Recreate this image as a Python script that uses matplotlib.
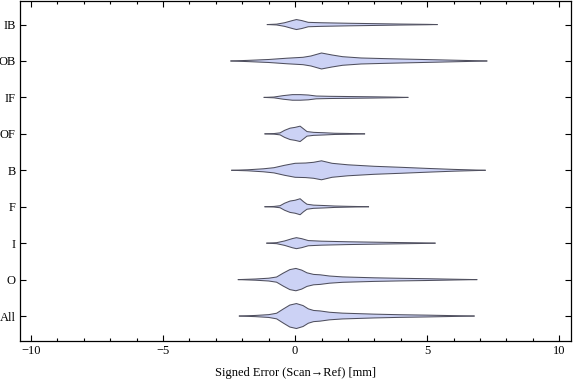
import numpy as np
import matplotlib
matplotlib.use("Agg")
import matplotlib.pyplot as plt
from matplotlib.ticker import MultipleLocator

# categories, bottom to top
categories = ['All', 'O', 'I', 'F', 'B', 'OF', 'IF', 'OB', 'IB']

# violin outlines: error value (mm) and half width (read in pixels of the original)
prof_x = {
    'IB': [-1.05, -0.7, -0.4, -0.1, 0.05, 0.25, 0.5, 1.0, 2.0, 3.0, 4.0, 5.0, 5.38],
    'OB': [-2.43, -1.8, -1.0, -0.3, 0.3, 0.6, 1.0, 1.4, 1.8, 2.5, 3.5, 4.5, 5.5, 6.5, 7.26],
    'IF': [-1.17, -0.8, -0.45, -0.1, 0.2, 0.5, 0.8, 1.3, 2.0, 3.0, 3.8, 4.27],
    'OF': [-1.14, -0.8, -0.57, -0.4, -0.19, 0.0, 0.19, 0.32, 0.45, 0.7, 1.1, 1.5, 2.0, 2.63],
    'B': [-2.4, -1.8, -1.2, -0.8, -0.4, 0.0, 0.4, 0.7, 1.0, 1.4, 2.0, 3.0, 4.0, 5.0, 6.0, 7.2],
    'F': [-1.14, -0.8, -0.57, -0.4, -0.19, 0.0, 0.19, 0.32, 0.45, 0.7, 1.1, 1.5, 2.0, 2.78],
    'I': [-1.07, -0.7, -0.4, -0.1, 0.05, 0.25, 0.5, 1.0, 2.0, 3.0, 4.0, 4.8, 5.3],
    'O': [-2.15, -1.5, -1.0, -0.7, -0.45, -0.2, 0.03, 0.25, 0.45, 0.7, 0.95, 1.3, 1.8, 3.0, 4.0, 5.0, 6.0, 6.88],
    'All': [-2.11, -1.5, -1.0, -0.7, -0.45, -0.2, 0.05, 0.3, 0.5, 0.7, 0.95, 1.3, 1.8, 3.0, 4.0, 5.0, 6.0, 6.78],
}
prof_w = {
    'IB': [0, 0.4, 1.8, 4, 5, 4, 2.2, 1.8, 1.3, 0.9, 0.5, 0.2, 0],
    'OB': [0, 0.6, 1.5, 2.8, 3.7, 5, 8, 6, 4.3, 3, 2.3, 1.7, 1.1, 0.5, 0],
    'IF': [0, 0.4, 1.8, 2.8, 2.8, 2.4, 1.4, 1.1, 0.9, 0.6, 0.3, 0],
    'OF': [0, 0.3, 1.0, 3.5, 5.7, 6.5, 7.7, 5.0, 2.3, 1.5, 1.1, 0.6, 0.4, 0],
    'B': [0, 0.5, 1.5, 2.6, 5.0, 7.0, 7.3, 8.0, 9.5, 7.0, 5.5, 4.0, 3.0, 1.9, 0.9, 0],
    'F': [0, 0.3, 1.0, 3.5, 5.7, 6.5, 8.0, 5.0, 2.5, 1.6, 1.2, 0.7, 0.4, 0],
    'I': [0, 0.5, 2.2, 4.6, 5.5, 4.5, 2.6, 2.0, 1.4, 1.0, 0.6, 0.3, 0],
    'O': [0, 0.6, 1.4, 2.6, 6.5, 10, 11.2, 9.5, 6.8, 5.2, 4.8, 3.6, 2.7, 1.8, 1.3, 0.9, 0.4, 0],
    'All': [0, 0.6, 1.4, 2.8, 7.0, 11, 12.5, 10.5, 7.2, 5.6, 5.1, 3.8, 2.9, 1.9, 1.3, 0.9, 0.4, 0],
}
x_ticks = [-10, -5, 0, 5, 10]
x_ticklabels = ['\u221210', '\u22125', '0', '5', '10']

plt.rcParams['font.family'] = ['Liberation Serif', 'DejaVu Serif']
plt.rcParams['font.size'] = 9

fig = plt.figure(figsize=(5.76, 3.81), dpi=100)
ax = fig.add_axes([20 / 576, 40 / 381, 551 / 576, 340.5 / 381])

px_per_unit = 36.5  # one category slot in pixels
for i, cat in enumerate(categories):
    pos = i + 1
    x = np.array(prof_x[cat])
    w = np.array(prof_w[cat]) / px_per_unit
    ax.fill_between(x, pos - w, pos + w, facecolor='#ccd2f5', edgecolor='none', zorder=2)
    ax.plot(x, pos + w, color='#4f4f5e', lw=0.75, zorder=3)
    ax.plot(x, pos - w, color='#4f4f5e', lw=0.75, zorder=3)

ax.set_xlim(-10.42, 10.45)
ax.set_ylim(0.315, 9.66)
ax.set_xticks(x_ticks)
ax.set_xticklabels(x_ticklabels)
ax.xaxis.set_minor_locator(MultipleLocator(1))
ax.set_yticks(range(1, len(categories) + 1))
ax.set_yticklabels(categories)

ax.tick_params(direction='in', top=True, right=True, which='both', width=0.8)
ax.tick_params(which='major', length=4, pad=3)
ax.tick_params(which='minor', length=2.2)
for s in ax.spines.values():
    s.set_linewidth(0.9)

ax.set_xlabel('Signed Error (Scan\u2192Ref) [mm]', labelpad=7)

fig.savefig('out.png', dpi=100)
